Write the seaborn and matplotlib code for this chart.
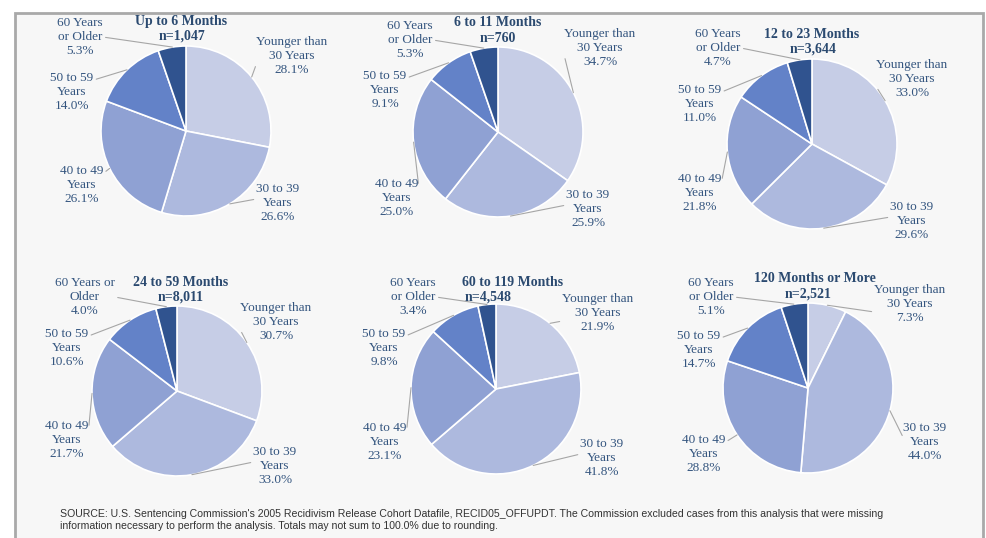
import numpy as np
import matplotlib
matplotlib.use('Agg')
import matplotlib.pyplot as plt
import seaborn as sns
from matplotlib.patches import Rectangle

# --- DATA ---
AGE_GROUPS = ['Younger than\n30 Years', '30 to 39\nYears', '40 to 49\nYears',
              '50 to 59\nYears', '60 Years\nor Older']
PERIODS = ['Up to 6 Months', '6 to 11 Months', '12 to 23 Months',
           '24 to 59 Months', '60 to 119 Months', '120 Months or More']
N_COUNTS = ['1,047', '760', '3,644', '8,011', '4,548', '2,521']
SHARES = [
    [28.1, 26.6, 26.1, 14.0, 5.3],
    [34.7, 25.9, 25.0, 9.1, 5.3],
    [33.0, 29.6, 21.8, 11.0, 4.7],
    [30.7, 33.0, 21.7, 10.6, 4.0],
    [21.9, 41.8, 23.1, 9.8, 3.4],
    [7.3, 44.0, 28.8, 14.7, 5.1],
]
SOURCE = ("SOURCE: U.S. Sentencing Commission's 2005 Recidivism Release Cohort Datafile, RECID05_OFFUPDT. "
          "The Commission excluded cases from this analysis that were missing\n"
          "information necessary to perform the analysis. Totals may not sum to 100.0% due to rounding.")

# --- LAYOUT (pixel coords, y from top) ---
W, H = 986, 538
CENTERS = [(186, 131), (498, 132), (812, 144), (177, 391), (496, 389), (808, 388)]
RADIUS = 85
TITLE_POS = [(181, 22), (498, 22), (812, 34), (181, 282), (513, 282), (815, 279)]
N_POS = [(182, 36), (498, 38), (813, 49), (181, 297), (488, 297), (808, 294)]
LABEL_POS = [
    [(292, 56), (278, 203), (82, 185), (72, 92), (80, 37)],
    [(600, 48), (588, 209), (397, 198), (385, 90), (410, 40)],
    [(912, 79), (912, 221), (700, 193), (700, 104), (718, 48)],
    [(276, 322), (275, 466), (67, 440), (67, 348), (85, 297)],
    [(598, 313), (602, 458), (385, 442), (384, 348), (413, 297)],
    [(910, 304), (925, 442), (704, 454), (699, 350), (711, 297)],
]
# where the leader line leaves each label (fraction of its box)
LINE_ANCHOR = [(0, 0.3), (0, 0.6), (1, 0.8), (1, 0.8), (1, 0.5)]

COLORS = sns.color_palette(['#c6cde6', '#adb9de', '#8fa1d3', '#6382c8', '#30538f'])
TEXT_COLOR = '#34557f'
TITLE_COLOR = '#2b4a70'

sns.set_theme(style='white')
plt.rcParams['font.family'] = ['Liberation Serif', 'DejaVu Serif']


def Y(py):
    return H - py


fig = plt.figure(figsize=(W / 100, H / 100), dpi=100)
ax = fig.add_axes([0, 0, 1, 1])

# frame
ax.add_patch(Rectangle((15, Y(560)), 968, 547, facecolor='#f7f7f7',
                       edgecolor='#a9a9a9', lw=2, zorder=0))

for i, vals in enumerate(SHARES):
    cx, cy = CENTERS[i]
    ax.pie(vals, colors=COLORS, startangle=90, counterclock=False,
           center=(cx, Y(cy)), radius=RADIUS, frame=True,
           wedgeprops=dict(edgecolor='white', linewidth=1.2))
    ax.text(TITLE_POS[i][0], Y(TITLE_POS[i][1]), PERIODS[i], ha='center', va='center',
            fontsize=10, fontweight='bold', color=TITLE_COLOR)
    ax.text(N_POS[i][0], Y(N_POS[i][1]), 'n=' + N_COUNTS[i], ha='center', va='center',
            fontsize=10, fontweight='bold', color=TITLE_COLOR)
    cum = 0
    for j, v in enumerate(vals):
        ang = np.deg2rad(90 - 360 * (cum + v / 2) / 100)
        cum += v
        ex = cx + RADIUS * np.cos(ang)
        ey = cy - RADIUS * np.sin(ang)
        label = AGE_GROUPS[j]
        if i == 3 and j == 4:
            label = '60 Years or\nOlder'
        lx, ly = LABEL_POS[i][j]
        ax.annotate(f'{label}\n{v:.1f}%', xy=(ex, Y(ey)), xytext=(lx, Y(ly)),
                    ha='center', va='center', fontsize=9.5, color=TEXT_COLOR,
                    linespacing=1.22,
                    arrowprops=dict(arrowstyle='-', color='#a6a6a6', lw=0.8,
                                    relpos=LINE_ANCHOR[j], patchA=None,
                                    shrinkA=2, shrinkB=0))

ax.text(60, Y(520), SOURCE, ha='left', va='center', fontsize=7.6, color='#333333',
        family=['Liberation Sans', 'DejaVu Sans'], linespacing=1.25)

ax.set_xlim(0, W)
ax.set_ylim(0, H)
ax.set_aspect('equal')
ax.axis('off')
fig.patch.set_facecolor('white')
fig.savefig('out.png', dpi=100)
